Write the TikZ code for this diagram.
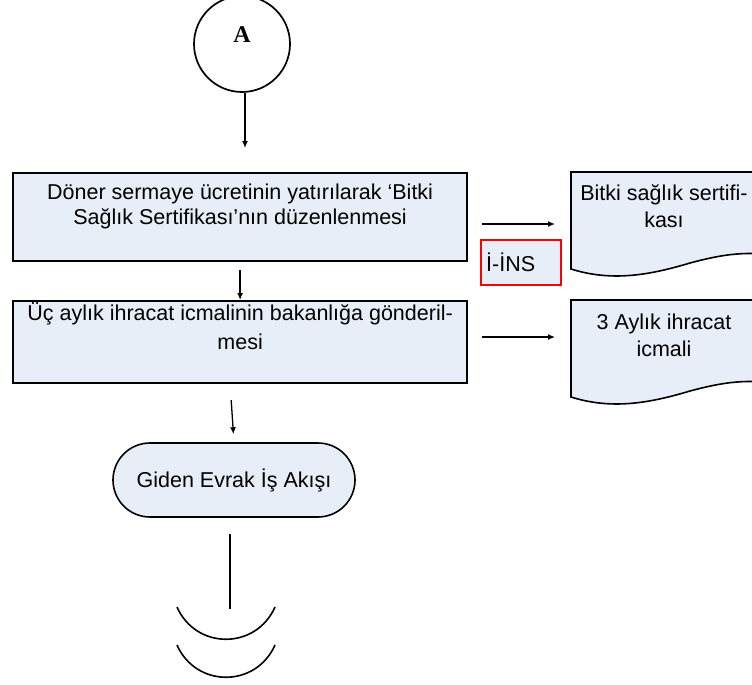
\documentclass[tikz,border=0pt]{standalone}
\usepackage{fontspec}
\setmainfont{Liberation Sans}[Ligatures=NoCommon]
\newfontfamily\timesfont{Liberation Serif}
\usetikzlibrary{positioning,arrows.meta}
\definecolor{kutumavi}{RGB}{232,238,247}

\tikzset{
  islem/.style={draw=black,line width=2.2pt,fill=kutumavi,minimum width=454pt,anchor=north west},
  yazi/.style={align=center,inner sep=0pt},
  ok/.style={-{Latex[length=7pt,width=6pt]},line width=1.3pt},
  belge/.style={draw=black,line width=1.6pt,fill=kutumavi},
}

\begin{document}
\begin{tikzpicture}[x=1pt,y=-1pt,font=\fontsize{21.5}{25}\selectfont]
    \useasboundingbox (0,0) rectangle (752,685);
    \clip (0,0) rectangle (752,685);

    \node[circle,draw,line width=1.7pt,minimum size=96pt,inner sep=0pt,
          label={[font=\timesfont\bfseries\fontsize{24}{24}\selectfont,yshift=9pt]center:A}] (A) at (242,44) {};

    % islem kutulari
    \node[islem,minimum height=88pt] (doner) at (12,172) {};
    \node[yazi,below=12pt of doner.north] (donertxt) {Döner sermaye ücretinin yatırılarak ‘Bitki\\Sağlık Sertifikası’nın düzenlenmesi};
    \node[islem,minimum height=82pt] (ucay) at (12,300) {};
    \node[yazi,font=\fontsize{21.5}{29}\selectfont,below=2pt of ucay.north] (ucaytxt) {Üç aylık ihracat icmalinin bakanlığa gönderil-\\mesi};

    \node[draw,line width=1.6pt,fill=kutumavi,rounded corners=37pt,minimum width=242pt,minimum height=74pt] (giden) at (234,480) {Giden Evrak İş Akışı};

    \node[draw=red,line width=2.4pt,fill=kutumavi,anchor=north west,minimum height=45pt,text width=70pt,align=left,inner xsep=5pt] (ins) at (480,239) {İ-İNS};

    % belgeler
    \draw[belge] (571,172) -- (762,172) -- (762,254) .. controls (738,252) and (716,256) .. (690,263) .. controls (650,275) and (612,282) .. (571,269) -- cycle;
    \node[yazi,font=\fontsize{21.5}{27}\selectfont] (sertifika) at (664,206) {Bitki sağlık sertifi-\\kası};
    \draw[belge] (571,300) -- (762,300) -- (762,382) .. controls (738,380) and (716,384) .. (690,391) .. controls (650,403) and (612,410) .. (571,397) -- cycle;
    \node[yazi,font=\fontsize{21.5}{27}\selectfont] (icmal) at (664,335) {3 Aylık ihracat\\icmali};
    \coordinate (b1sol) at (571,224);
    \coordinate (b2sol) at (571,337);

    % oklar
    \draw[ok,shorten >=24pt] ([xshift=3pt]A.south) -- ([xshift=3pt]A.south |- doner.north);
    \draw[ok,shorten <=8pt] (doner.south) -- (ucay.north);
    \draw[ok,shorten <=16pt,shorten >=8pt] ([xshift=-10pt]ucay.south) -- (giden.north);
    \draw[ok,shorten <=14pt,shorten >=16pt] (doner.east |- b1sol) -- (b1sol);
    \draw[ok,shorten <=14pt,shorten >=16pt] (ucay.east |- b2sol) -- (b2sol);

    % sayfa disi baglanti
    \coordinate (son) at (230,609);
    \draw[line width=1.3pt,shorten <=16pt] (giden.south -| son) -- (son);
    \draw[line width=1.6pt] (177,607) .. controls (196,650) and (256,650) .. (275,607);
    \draw[line width=1.6pt] (177,645) .. controls (196,688) and (256,688) .. (275,645);
\end{tikzpicture}
\end{document}
